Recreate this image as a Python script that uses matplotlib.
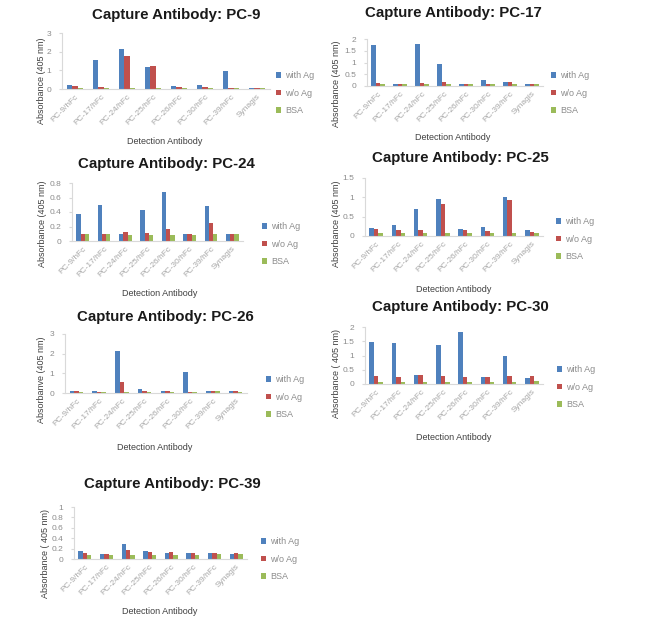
import numpy as np
import matplotlib
matplotlib.use("Agg")
import matplotlib.pyplot as plt

plt.rcParams['font.family'] = ['Liberation Sans', 'DejaVu Sans']

categories = ["PC-9/hFc", "PC-17/hFc", "PC-24/hFc", "PC-25/hFc",
              "PC-26/hFc", "PC-30/hFc", "PC-39/hFc", "Synagis"]
series_names = ["with Ag", "w/o Ag", "BSA"]
colors = ["#4F81BD", "#C0504D", "#9BBB59"]

pc9_with = [0.20, 1.55, 2.12, 1.20, 0.18, 0.20, 0.97, 0.05]
pc9_wo = [0.17, 0.12, 1.75, 1.25, 0.13, 0.10, 0.07, 0.07]
pc9_bsa = [0.07, 0.06, 0.07, 0.07, 0.06, 0.07, 0.07, 0.08]

pc17_with = [1.75, 0.10, 1.80, 0.95, 0.10, 0.27, 0.17, 0.10]
pc17_wo = [0.12, 0.10, 0.12, 0.15, 0.10, 0.10, 0.17, 0.08]
pc17_bsa = [0.07, 0.07, 0.07, 0.07, 0.07, 0.07, 0.10, 0.08]

pc24_with = [0.37, 0.50, 0.09, 0.43, 0.68, 0.09, 0.48, 0.09]
pc24_wo = [0.10, 0.09, 0.12, 0.11, 0.16, 0.09, 0.25, 0.09]
pc24_bsa = [0.09, 0.09, 0.08, 0.08, 0.08, 0.08, 0.10, 0.10]

pc25_with = [0.20, 0.28, 0.70, 0.95, 0.17, 0.23, 1.02, 0.15]
pc25_wo = [0.18, 0.15, 0.15, 0.83, 0.15, 0.14, 0.92, 0.10]
pc25_bsa = [0.08, 0.08, 0.08, 0.08, 0.08, 0.07, 0.08, 0.08]

pc26_with = [0.12, 0.12, 2.15, 0.18, 0.10, 1.07, 0.12, 0.10]
pc26_wo = [0.08, 0.07, 0.58, 0.12, 0.08, 0.06, 0.10, 0.08]
pc26_bsa = [0.07, 0.07, 0.07, 0.07, 0.07, 0.06, 0.08, 0.07]

pc30_with = [1.47, 1.45, 0.30, 1.38, 1.82, 0.26, 0.98, 0.22]
pc30_wo = [0.28, 0.26, 0.30, 0.28, 0.25, 0.25, 0.28, 0.28]
pc30_bsa = [0.07, 0.07, 0.07, 0.07, 0.07, 0.07, 0.07, 0.10]

pc39_with = [0.15, 0.10, 0.28, 0.16, 0.11, 0.12, 0.11, 0.10]
pc39_wo = [0.12, 0.10, 0.17, 0.13, 0.13, 0.12, 0.11, 0.12]
pc39_bsa = [0.08, 0.08, 0.08, 0.08, 0.08, 0.07, 0.10, 0.10]

titles = ["Capture Antibody: PC-9", "Capture Antibody: PC-17",
          "Capture Antibody: PC-24", "Capture Antibody: PC-25",
          "Capture Antibody: PC-26", "Capture Antibody: PC-30",
          "Capture Antibody: PC-39"]
ylabels = ["Absorbance (405 nm)", "Absorbance (405 nm)",
           "Absorbance (405 nm)", "Absorbance (405 nm)",
           "Absorbanve (405 nm)", "Absorbance ( 405 nm)",
           "Absorbance ( 405 nm)"]
yticks_list = [[0, 1, 2, 3], [0, 0.5, 1, 1.5, 2], [0, 0.2, 0.4, 0.6, 0.8],
               [0, 0.5, 1, 1.5], [0, 1, 2, 3], [0, 0.5, 1, 1.5, 2],
               [0, 0.2, 0.4, 0.6, 0.8, 1]]
ytick_labels = [["0", "1", "2", "3"], ["0", "0.5", "1", "1.5", "2"],
                ["0", "0.2", "0.4", "0.6", "0.8"], ["0", "0.5", "1", "1.5"],
                ["0", "1", "2", "3"], ["0", "0.5", "1", "1.5", "2"],
                ["0", "0.2", "0.4", "0.6", "0.8", "1"]]
data = [(pc9_with, pc9_wo, pc9_bsa), (pc17_with, pc17_wo, pc17_bsa),
        (pc24_with, pc24_wo, pc24_bsa), (pc25_with, pc25_wo, pc25_bsa),
        (pc26_with, pc26_wo, pc26_bsa), (pc30_with, pc30_wo, pc30_bsa),
        (pc39_with, pc39_wo, pc39_bsa)]

W, H = 668, 629
fig = plt.figure(figsize=(W / 100, H / 100), dpi=100)

# layout in pixels: axes (x0, x1, ytop, ybottom), title centre, legend (x, ytop), ylabel centre, xlabel centre
layouts = [
    dict(ax=(62, 270, 33, 89), title=(176, 15), leg=(276, 71), ylab=(42, 81), xlab=(165, 142)),
    dict(ax=(367, 543, 39, 86), title=(453, 13), leg=(551, 71), ylab=(337, 84), xlab=(453, 138)),
    dict(ax=(72, 243, 183, 241), title=(166, 164), leg=(262, 222), ylab=(43, 224), xlab=(160, 294)),
    dict(ax=(365, 543, 178, 236), title=(460, 158), leg=(556, 217), ylab=(337, 224), xlab=(454, 289)),
    dict(ax=(65, 247, 334, 393), title=(165, 317), leg=(266, 375), ylab=(42, 380), xlab=(155, 447)),
    dict(ax=(365, 543, 327, 384), title=(460, 307), leg=(557, 365), ylab=(337, 374), xlab=(454, 438)),
    dict(ax=(74, 247, 507, 559), title=(172, 484), leg=(261, 537), ylab=(45, 553), xlab=(160, 612)),
]

x = np.arange(len(categories))
bw = 0.2
grey = "#D9D9D9"
tick_col = "#8C8C8C"

for i, lay in enumerate(layouts):
    x0, x1, yt, yb = lay["ax"]
    ax = fig.add_axes([x0 / W, 1 - yb / H, (x1 - x0) / W, (yb - yt) / H])
    handles = []
    for k in range(3):
        b = ax.bar(x + (k - 1) * bw, data[i][k], width=bw, color=colors[k],
                   label=series_names[k], linewidth=0)
        handles.append(b)
    ax.set_xlim(-0.5, len(categories) - 0.5)
    yt_vals = yticks_list[i]
    ax.set_ylim(0, yt_vals[-1])
    ax.set_yticks(yt_vals)
    ax.set_yticklabels(ytick_labels[i], fontsize=6, color=tick_col)
    ax.set_xticks(x)
    ax.set_xticklabels(categories, rotation=45, ha="right", rotation_mode="anchor",
                       fontsize=6, color="#A6A6A6")
    for s in ["top", "right"]:
        ax.spines[s].set_visible(False)
    ax.spines["left"].set_color(grey)
    ax.spines["bottom"].set_color(grey)
    ax.spines["left"].set_linewidth(0.8)
    ax.spines["bottom"].set_linewidth(0.8)
    ax.tick_params(axis="y", length=2.5, color=grey, pad=5)
    ax.tick_params(axis="x", length=0, pad=3)
    tx, ty = lay["title"]
    fig.text(tx / W, 1 - ty / H, titles[i], ha="center", va="center",
             fontsize=10.8, fontweight="bold", color="#1A1A1A")
    lxp, lyp = lay["ylab"]
    fig.text(lxp / W, 1 - lyp / H, ylabels[i],
             rotation=90, ha="center", va="center", fontsize=6.5, color="#404040")
    xx, xy = lay["xlab"]
    fig.text(xx / W, 1 - xy / H, "Detection Antibody", ha="center", va="center",
             fontsize=6.5, color="#404040")
    lx, ly = lay["leg"]
    leg = ax.legend(handles=handles, loc="upper left",
                    bbox_to_anchor=(lx / W, 1 - ly / H), bbox_transform=fig.transFigure,
                    frameon=False, fontsize=6.5, handlelength=0.6, handleheight=0.6,
                    handletextpad=0.4, labelspacing=0.95, borderaxespad=0, borderpad=0)
    for t in leg.get_texts():
        t.set_color("#8C8C8C")

fig.savefig("out.png", dpi=100)
